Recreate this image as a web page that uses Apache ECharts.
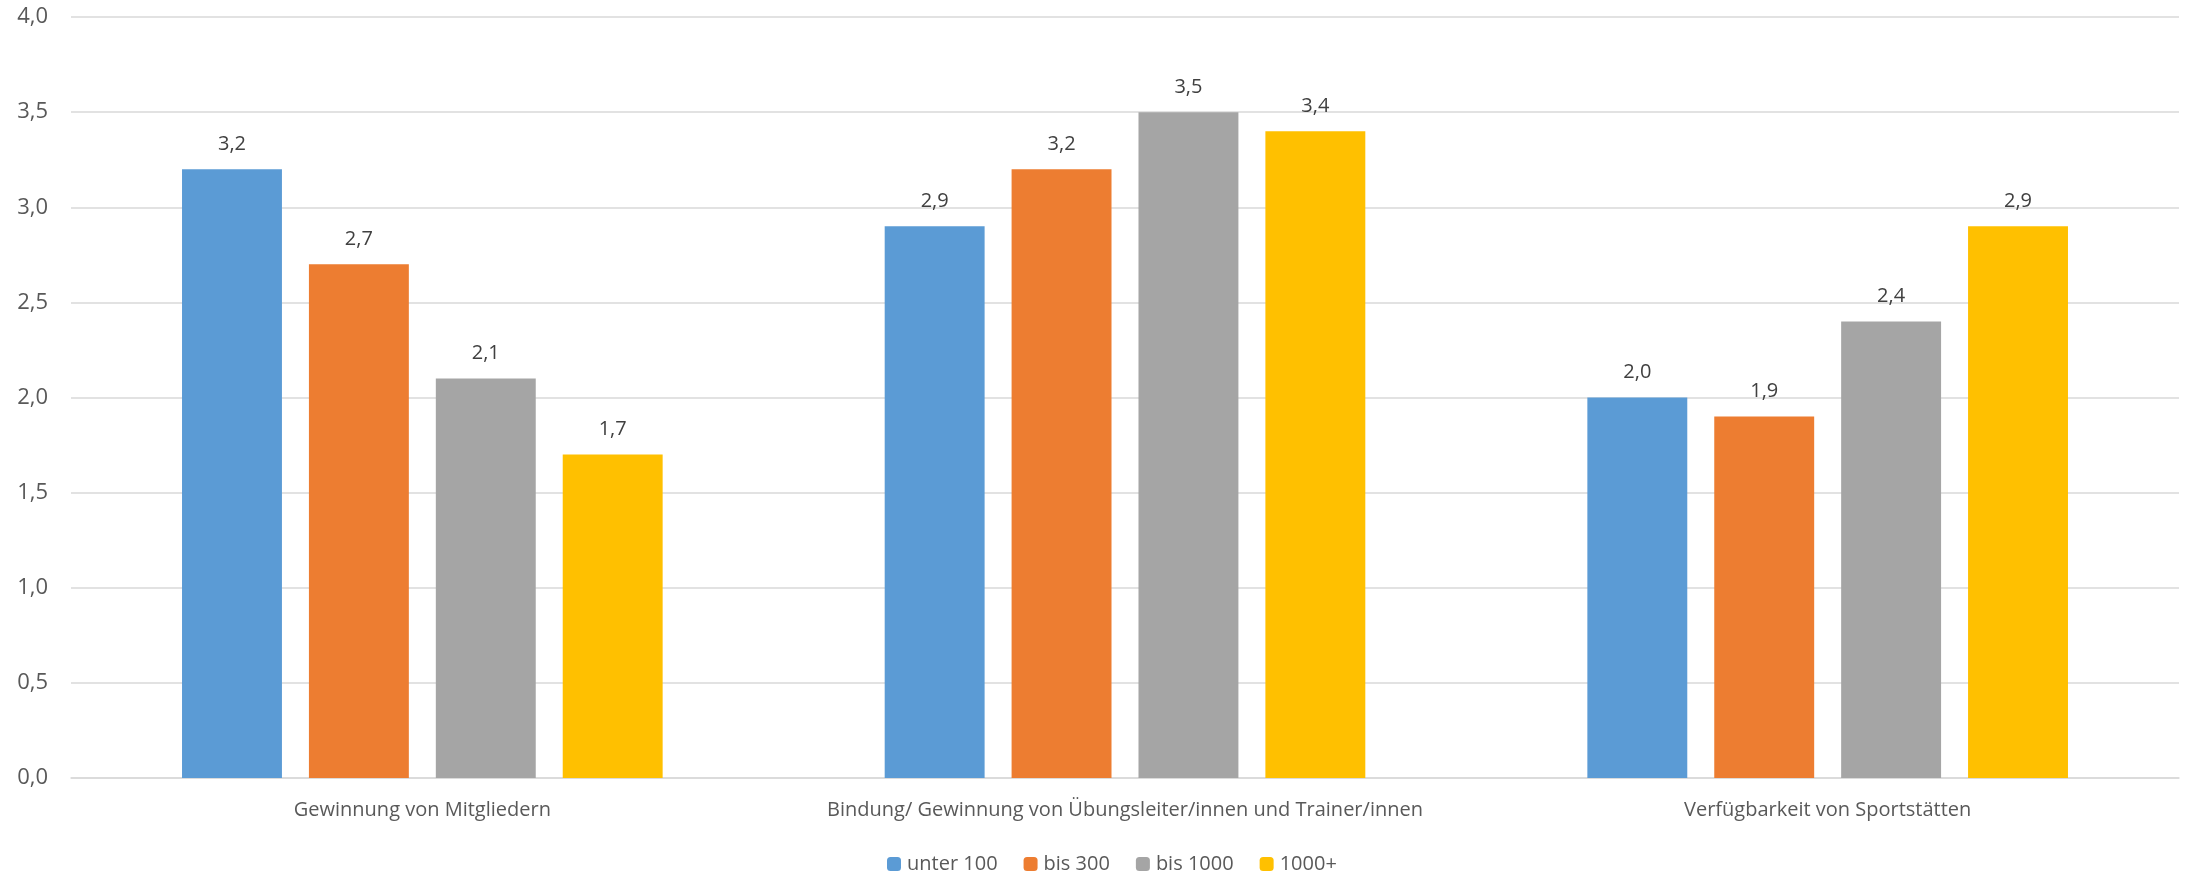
<!DOCTYPE html>
<html><head><meta charset="utf-8">
<script src="https://cdn.jsdelivr.net/npm/echarts@6/dist/echarts.min.js"></script>
<style>html,body{margin:0;padding:0;background:#fff}#c{width:2186px;height:875px}</style>
</head><body><div id="c"></div>
<script>
const categories = ["Gewinnung von Mitgliedern", "Bindung/ Gewinnung von Übungsleiter/innen und Trainer/innen", "Verfügbarkeit von Sportstätten"];
const seriesNames = ["unter 100", "bis 300", "bis 1000", "1000+"];
const unter100 = [3.2, 2.9, 2.0];
const bis300 = [2.7, 3.2, 1.9];
const bis1000 = [2.1, 3.5, 2.4];
const plus1000 = [1.7, 3.4, 2.9];
const colors = ["#5B9BD5", "#ED7D31", "#A5A5A5", "#FFC000"];
const values = [unter100, bis300, bis1000, plus1000];
const fmt = v => v.toFixed(1).replace('.', ',');
const FONT = "Open Sans";
const chart = echarts.init(document.getElementById('c'));
chart.setOption({
  animation: false,
  textStyle: {fontFamily: FONT},
  grid: {left: 71, right: 7, top: 17, bottom: 97, containLabel: false},
  legend: {
    top: 849, left: 882, itemWidth: 14, itemHeight: 14, itemGap: 26,
    textStyle: {fontSize: 20, color: '#595959', fontFamily: FONT, padding: [0, 0, 0, 1]},
    data: seriesNames
  },
  xAxis: {
    type: 'category', data: categories,
    axisLine: {lineStyle: {color: '#d9d9d9', width: 1.5}},
    axisTick: {show: false},
    axisLabel: {interval: 0, fontSize: 20, color: '#595959', margin: 22, fontFamily: FONT}
  },
  yAxis: {
    type: 'value', min: 0, max: 4, interval: 0.5,
    axisLine: {show: false}, axisTick: {show: false},
    splitLine: {lineStyle: {color: '#d9d9d9', width: 1.5}},
    axisLabel: {fontSize: 22, color: '#595959', margin: 23, formatter: v => fmt(v), fontFamily: FONT}
  },
  series: seriesNames.map((n, i) => ({
    name: n, type: 'bar', data: values[i],
    itemStyle: {color: colors[i]},
    barGap: '27%', barCategoryGap: '31.6%',
    label: {show: true, position: 'top', distance: 15, fontSize: 20, color: '#404040', formatter: p => fmt(p.value), fontFamily: FONT}
  }))
});
</script></body></html>
